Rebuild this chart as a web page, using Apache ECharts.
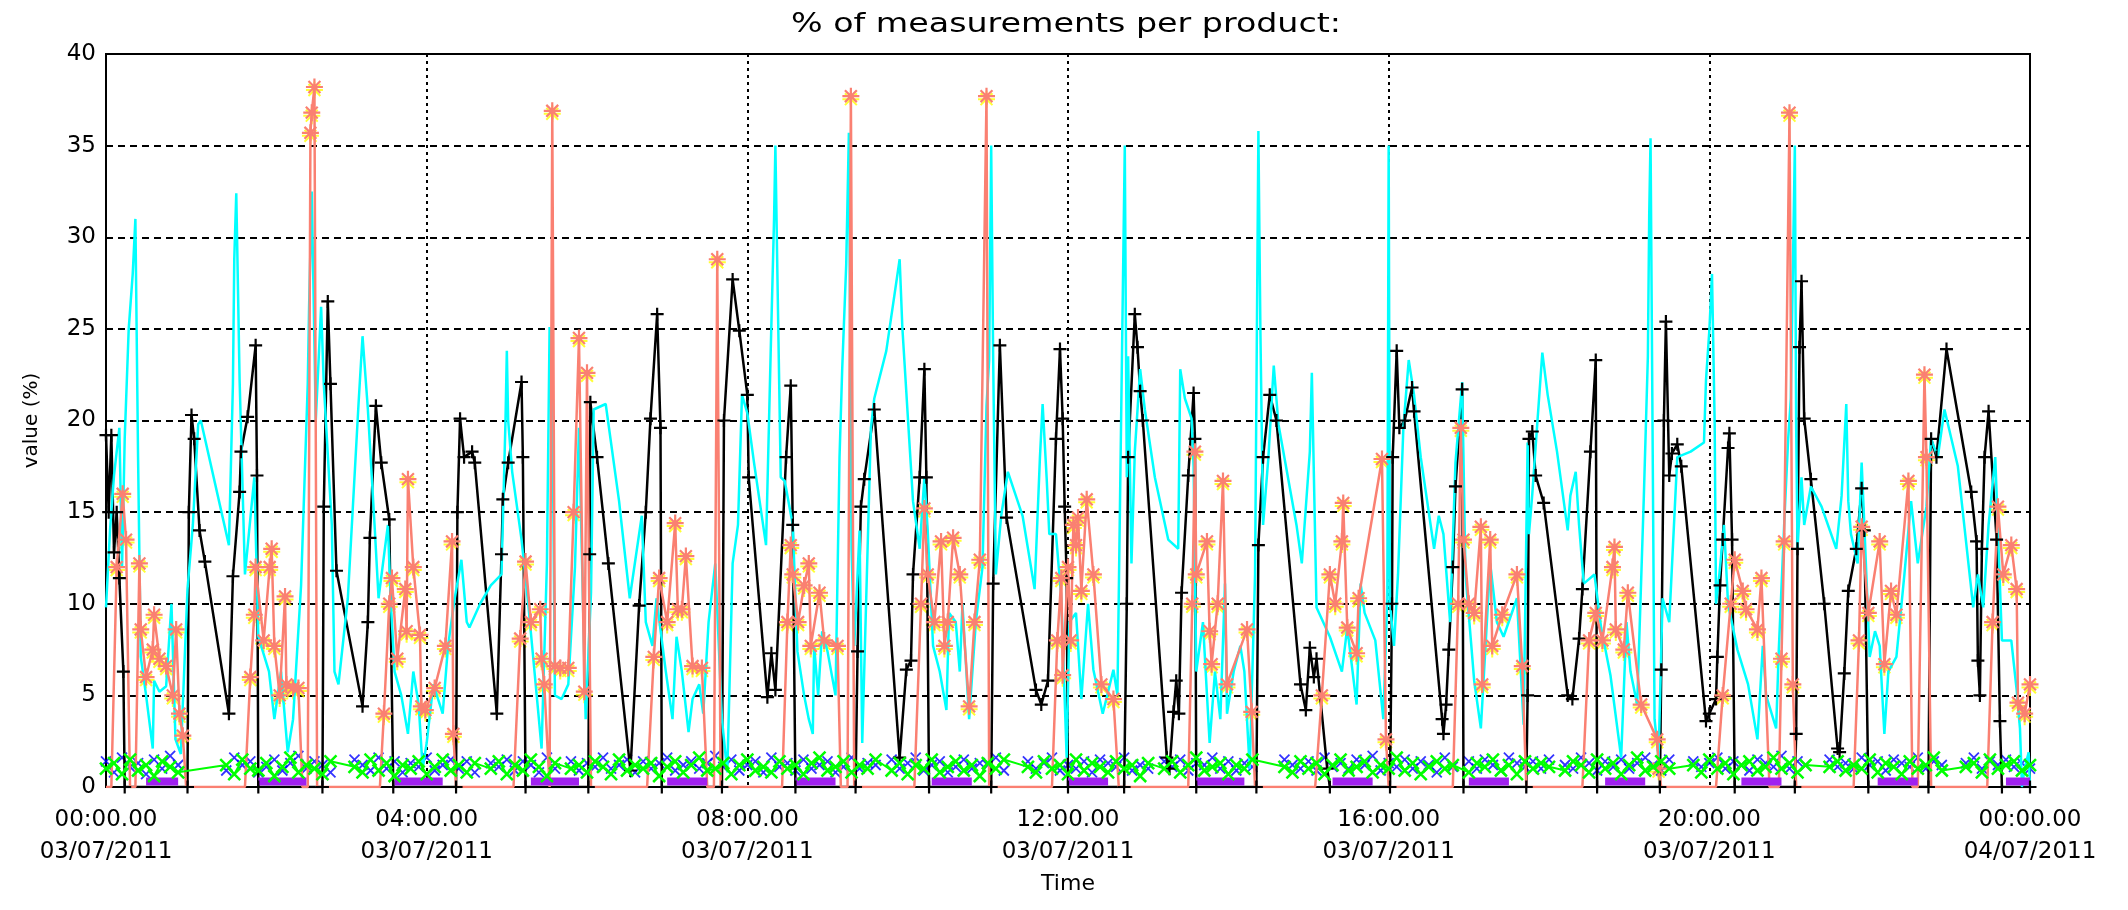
<!DOCTYPE html>
<html>
<head>
<meta charset="utf-8">
<script src="https://cdn.jsdelivr.net/npm/echarts@6/dist/echarts.min.js"></script>
<style>
html,body{margin:0;padding:0;background:#fff;}
#chart{width:2128px;height:910px;}
</style>
</head>
<body>
<div id="chart"></div>
<script>
// x values are minutes after 00:00 on 03/07/2011
const titleText = '% of measurements per product:';
const tickTimes = ['00:00.00','04:00.00','08:00.00','12:00.00','16:00.00','20:00.00','00:00.00'];
const tickDates = ['03/07/2011','03/07/2011','03/07/2011','03/07/2011','03/07/2011','03/07/2011','04/07/2011'];

const blackPts = [[0,19.2],[2,15],[4,19.2],[6,12.8],[8,15],[10,11.4],[13,6.3],[14,0],[61,0],[62,15],[64,20.3],[66,19],[70,14],[74,12.3],[92,4],[95,11.5],[100,16.1],[101,18.3],[106,20.2],[112,24.1],[113,17],[114,0],[162,0],[163,15.3],[166,26.5],[168,22],[172.5,11.8],[192,4.4],[196,9],[197.5,13.6],[202,20.8],[206,17.7],[212,14.6],[215,0],
[262,0],[263,15],[265,20.1],[268,18],[274,18.3],[276,17.7],[292.5,4],[296,12.7],[297,15.7],[301,17.7],[311,22.1],[312,18],[314,0],[361,0],[362,12.7],[362.5,21],[367.5,18],[376,12.2],[392.5,0.9],[399,9.9],[404,15],[407.5,20.1],[412.5,25.8],[415,19.6],[416,0],[461,0],[462.5,20],[469,27.7],[474,24.9],[480,21.4],
[481,16.9],[495,4.9],[498,7.3],[501,5.3],[509,18],[512.5,21.9],[514,14.3],[516,0],[561,0],[562.5,7.4],[565,15.3],[567.5,16.8],[575,20.6],[594,1.6],[599,6.4],[602.5,6.9],[604,11.6],[609,16.9],[612.5,22.8],[614,16.9],[616,0],[662.5,0],[664,11.1],[669,24.1],[674,14.7],[696,5.3],[700,4.5],[705,5.8],[711,19],[714,23.9],[716,20.1],[717.5,15.3],[719,11.4],[720,0],
[762,0],[764,10],[765,18],[770,25.8],[772,24],[774,21.6],[776,20],[794,1.6],[796,1],[799,4.1],[801,5.8],[803,4],[805,10.6],[810,17],[814,21.5],[815,19],[816,0],[861,0],[862.5,13.2],[866,18],[871,21.4],[876,20],[894,5.6],[898,4.2],[901,7.6],[904,6],[906,7],[914,1],[916,0],[961,0],[962.5,10],
[963,18],[966,23.8],[968,19.6],[972,20],[977.5,21.8],[979,20.5],[1000,3.7],[1001,2.9],[1003,4.5],[1005,7.5],[1008,12],[1010,16.4],[1015,21.7],[1016,0],[1063,0],[1064,5],[1065,19],[1067.5,19.4],[1070,17],[1076,15.5],[1094,5],[1097.5,4.8],[1102.5,8.1],[1105,10.8],[1111,18.3],[1115,23.3],[1116,0],[1163,0],[1164,6.4],[1166,20],[1167.5,25.4],[1170,17],[1172,18.2],[1176,18.7],[1179,17.5],[1197.5,3.6],
[1200,4],[1205,4.8],[1206,7.1],[1208,11],[1210,13.5],[1214,18.5],[1215,19.3],[1217,13.5],[1219,0],[1264,0],[1265,2.9],[1266,13],[1267.5,24],[1269,27.6],[1271,20.1],[1276,16.8],[1286,10],[1296,2.1],[1297.5,1.9],[1301,6.2],[1304,10.7],[1310,13],[1314,16.3],[1316,14],[1319,0],[1364,0],[1366,19],[1370,18],[1377.5,23.9],[1396,16.1],[1400,13.4],[1401,6.9],[1402.5,5],[1404,13],[1406,18],[1409,20.5],[1415,13.5],[1417.5,3.6],[1419,0],[1440,0]];

const cyanPts = [[0,9.8],[3,14],[6,17],[10,19.6],[12,12],[14,19],[17,25],[20,28],[22,31],[24,18],[26,7.1],[30,5],[35,2.1],[36,5.8],[40,5.2],[45,5.5],[49,10],[52,2.6],[56,1.8],[61,10.8],[65,14.3],[69,19.8],[71,20],[92,13.2],[95,22],[96,28.8],[97.5,32.4],[100,22.2],[104,11.6],[111,16.9],[114,8.2],[122,6.3],[126,3.7],[131,6.3],[136,1.9],[140,3.7],[146,11],[151,22],[152,26.2],[154,32.5],[157,20],[161,26.2],[163,22],[169,14.3],[171,6.3],[174,5.6],[181,10.3],[189,20.9],[192,24.6],[196,20.6],[201,14.3],[204,10.3],[211,14.3],[213,10.3],[216,6.3],[221,5],[226,2.9],[230,6.3],[234,4.5],[237,1],
[240,2.4],[245,5.6],[252,4],[256,7.7],[261,10.3],[266,12.4],[270,9],[272,8.7],[280,10],[288,11],[296,11.6],[299,20],[300,23.8],[301,20],[304,17.2],[311,13.5],[316,10],[324,3.7],[326,2.1],[330,12.2],[332,25.1],[334,22],[336,5],[341,4.8],[346,5.6],[351,12],[354,19.6],[359,3.7],[363,10.6],[365,20.6],[374,20.9],[384,15.6],[392,10.3],[401,14.8],[404,9],[409,7.7],[412,10.3],[419,6.3],[424,3.7],[427,8.2],[431,6.3],[436,3],[439,4.8],[444,5.6],[447,4],[451,9],[456,12.2],[461,3.7],[465,0.8],[469,12.2],[473,14.3],[476,21.4],
[480,20.4],[485,17.7],[494,13.2],[497.5,23.8],[500,31],[501,35],[502.5,28],[505,16.9],[508,16.7],[514,14.3],[517.5,7.4],[522.5,5],[526,3.7],[529,2.9],[530,7.7],[533,5],[536,8.5],[540,7.4],[546,5],[549,18],[551,22.8],[554,28.5],[556,35.7],[558,13],[560,7.7],[562.5,11.6],[564,14],[566,2.4],[572.5,19.6],[575,21.2],[584,23.8],[594,28.8],[596,25.1],[604,15.6],[609,13],[612.5,16.9],[615,14],[619,7.7],[624,6.3],[629,4.2],[631,9.5],[636,9],[639,6.3],[641,10],[646,3.7],[651,9],[656,12],[659,20.8],[661,23.3],[662.5,35],[664,23.3],[666,11.6],[670,14.8],[675,17.2],[686,14.8],[695,10.8],[699,18],[701,20.9],[704,16.9],[706,13.8],[711,13.8],[715,10.3],[719,1.6],
[721,9],[726,9.5],[730,4.8],[735,10],[739,6.4],[746,4],[754,6.4],[757,5],[762.5,35],[764,16.9],[765,23.5],[767.5,12.2],[770,18.3],[774,22.8],[777.5,20.6],[785,16.9],[795,13.5],[802.5,13],[804,22.8],[807.5,21.2],[812.5,20.1],[814,17.5],[816,6.3],[821,9],[826,2.4],[830,6.3],[834,3.7],[837.5,11.1],[839,4],[844,6.3],[849,7.7],[852,6.3],[856,1],[860,11.6],[862.5,35.8],[864,24.9],[866,14.3],[870,18],[874,23],[877.5,19.8],[891,14.3],[895,12.2],[901,18.3],[902.5,22.6],[906,9.8],[916,8.2],[925,6.3],[929,8.7],[936,4.5],[939,11.1],[942,9.5],[950,8],[956,3.7],[959,10.3],[960,35],
[961,10],[964,7.7],[967,11.6],[971,19.6],[975,23.3],[979,21.4],[984,18],[994,13],[997.5,14.8],[1001,13.8],[1006,9],[1010,17.7],[1015,22.1],[1017.5,11.6],[1024,5.8],[1029,3.2],[1032.5,7.7],[1036,12.2],[1041,9],[1046,8.2],[1056,10.3],[1061,3.4],[1064,18.8],[1065,13.8],[1067.5,16],[1075,23.7],[1079,21.4],[1086,18.3],[1094,14],[1096,15.9],[1100,17.2],[1102.5,14.3],[1106,11.1],[1114,11.6],[1119,8.7],[1126,6.1],[1134,1.6],[1138,9],[1141,6.3],[1146,4.5],[1151,15.9],[1154,23.5],[1155,31.2],[1156,35.4],[1159,3.7],[1162,1.6],[1165,10.3],[1170,9],[1176,18],[1186,18.3],[1196,18.8],[1197.5,22.2],[1200,24.9],[1202,28],
[1204,19.8],[1205,10],[1207.5,11.6],[1211,14.3],[1214,10],[1221,7.5],[1229,5.6],[1236,2.6],[1240,7.7],[1242.5,5],[1250,3.2],[1252,7.5],[1256,14.3],[1259,19],[1261,21.2],[1264,35],[1265,19.6],[1266,13],[1269,16.9],[1271,14.3],[1276,16.4],[1284,15.3],[1295,13],[1299,15.9],[1302.5,20.9],[1304,15.6],[1306,13.8],[1311,12.2],[1314,17.7],[1316,14.3],[1320,7.1],[1324,8.5],[1327.5,7.7],[1331,2.9],[1334,6.3],[1340,7.1],[1346,11.6],[1351,15.6],[1356,12.2],[1362.5,15.3],[1366,19],[1371,18],[1376,20.6],[1386,17.5],[1397.5,9.8],[1401,11.6],[1405,9.8],[1409,14.3],[1414,18],[1416,14],[1419,8],[1426,8],[1430,5.3],[1432.5,3.2],[1434,0],[1436,1],[1439,1.9],[1440,0]];

const salmonPts = [[0,0],[4,0],[8,12],[12.5,16],[15,13.5],[18,0],[22,0],[25,12.2],[26,8.6],[30,6],[35,7.5],[36,9.4],[40,7],[45,6.6],[50,5],[52.5,8.6],[55,4],[57.5,2.8],[60,0],[104,0],[108,6],[111,9.4],[112,12],[118,8],[122.5,12],[124,13],[126,7.7],[130,5],[134,10.4],[135,5.6],[140,5.4],[144,5.4],[147,0],[151,0],[153,35.7],[154,36.8],[156,38.2],[158,0],[205,0],[208,4],[212,10],[214,11.4],[218,7],[224,10.8],[225,8.5],[226,16.8],[230,12],[235,8.3],[236,4.4],
[239,4.2],[246,5.4],[254,7.7],[259,13.4],[260,2.9],[262,0],[305,0],[310,8.1],[314,12.3],[318,9],[325,9.7],[326,7],[328,5.6],[332,0],[334,36.9],[336,6.6],[340,6.5],[346,6.5],[350,15],[354,24.5],[358,5.2],[360,22.6],[363,0],[405,0],[410,7.1],[414,11.4],[420,9],[426,14.4],[428,9.7],[431,9.7],[434,12.6],[439,6.6],[446,6.5],[450,0],[455,0],[457.5,28.8],[460,0],
[506,0],[510,9],[512.5,13.2],[514,11.6],[518,9],[522.5,11],[526,12.2],[527.5,7.7],[534,10.6],[537.5,8],[547.5,7.7],[550,0],[555,0],[557.5,37.7],[560,0],[605,0],[610,10],[612.5,15.2],[615,11.6],[620,9],[625,13.4],[627.5,7.7],[630,9],[634,13.6],[639,11.6],[646,4.4],[650,9],[654,12.4],[659,37.7],[661,0],[708,0],[712,8],[715,11.4],[716,6.1],[720,12],
[722,8],[724,14.3],[726,13.2],[727.5,14.7],[730,10.7],[734,15.7],[739,11.6],[745,5.6],[754,4.8],[758,0],[810,0],[813,10],[815,18.3],[816,11.6],[824,13.4],[826,8.5],[827.5,6.7],[832,10],[836,16.7],[839,5.6],[854,8.6],[857.5,4.1],[860,0],[905,0],[910,5],[916,11.6],[920,10],[925,13.4],[926,15.5],[929,8.7],[936,7.3],[937.5,10.3],[955,17.9],[958,2.6],[960,0],
[1008,0],[1012,10],[1014,19.6],[1016,13.5],[1020,10],[1024,9.5],[1029,14.2],[1030,5.6],[1036,13.5],[1037.5,7.7],[1045,9.4],[1056,11.6],[1060,6.6],[1063,0],[1105,0],[1110,8],[1115,9.5],[1120,8],[1127.5,12],[1129,13.1],[1130,8.6],[1136,7.5],[1139,10.6],[1149,4.5],[1161,2.6],[1162,1],[1164,0],
[1205,0],[1210,5],[1216,10],[1219,12.4],[1225,10.7],[1227.5,9.7],[1236,8.6],[1239,11.4],[1245,0],[1252,0],[1254,7],[1256,13.4],[1260,36.8],[1262.5,5.6],[1265,0],[1308,0],[1312,8],[1314,14.2],[1319,9.5],[1327.5,13.4],[1331,6.7],[1336,10.7],[1340,9.4],[1349,16.7],[1352,0],[1356,0],[1361,22.5],[1362.5,18],[1366,0],[1408,0],[1412,9],[1416,15.3],[1420,11.6],[1426,13.2],[1430,10.8],[1431,4.6],[1436,4],[1440,5.6]];

// low-level products, sampled every 6 minutes (null = no measurement)
const bandStep = 6;
const greenV = [1.0,1.3,0.7,1.5,0.9,1.2,0.6,1.4,1.1,0.8,
null,null,null,null,null,1.2,0.7,1.5,1.0,0.9,
1.3,0.6,1.1,1.6,0.8,1.2,1.0,0.7,1.4,null,
null,1.1,0.8,1.5,0.9,1.3,0.6,1.2,1.0,1.4,
0.7,1.1,1.5,0.9,1.2,0.8,1.3,null,1.0,1.4,
0.7,1.2,0.9,1.5,1.1,0.6,1.3,null,1.0,1.2,
0.8,1.4,1.1,0.7,1.5,0.9,1.2,1.0,1.3,0.6,
1.1,1.4,0.8,1.2,1.6,0.9,1.0,1.3,0.7,1.2,
1.5,0.9,1.1,0.8,1.4,1.0,1.2,0.7,1.3,1.6,
0.9,1.1,1.4,0.8,1.2,1.0,1.5,null,0.9,1.3,
0.7,1.2,1.0,1.5,0.8,1.1,1.4,0.9,1.2,0.6,
1.3,1.0,1.5,null,null,1.1,0.8,1.4,1.0,1.2,
0.7,1.5,0.9,1.3,1.1,0.8,1.4,1.0,1.2,0.6,
1.3,null,1.0,1.4,0.8,1.2,1.6,0.9,1.1,1.3,
0.7,1.2,1.0,1.5,null,null,null,1.1,0.8,1.4,
1.0,1.3,0.7,1.2,1.5,0.9,1.1,1.4,0.8,1.2,
1.0,1.6,0.9,1.3,0.7,1.1,1.4,1.0,1.2,null,
0.8,1.3,1.1,1.5,0.9,1.2,0.7,1.4,1.0,1.3,
1.1,null,0.9,1.4,1.2,0.8,1.5,1.0,1.3,0.7,
1.2,1.6,0.9,1.1,1.4,1.0,null,null,1.2,0.8,
1.5,1.0,1.3,0.7,1.2,1.4,0.9,1.1,1.6,1.0,
1.3,0.8,1.2,null,null,1.1,1.4,0.9,1.2,1.0,
1.5,0.8,1.3,1.1,0.7,1.4,1.0,1.2,1.6,0.9,
null,null,1.1,1.3,0.8,1.5,1.0,1.2,1.4,0.9,
1.2];
const blueV = [1.4,0.8,1.6,1.1,1.3,0.7,1.5,1.0,1.7,1.2,
null,null,null,null,null,0.9,1.6,1.2,1.4,0.8,
1.1,1.5,0.9,1.3,1.7,1.0,1.4,1.2,0.8,null,
null,1.5,1.2,0.9,1.6,1.0,1.4,0.8,1.3,1.1,
1.6,0.9,1.2,1.5,1.0,1.4,0.8,null,1.3,1.1,
1.5,0.9,1.4,1.2,0.8,1.6,1.0,null,1.4,0.9,
1.3,1.1,1.6,1.0,1.2,1.5,0.8,1.4,1.0,1.3,
1.6,0.9,1.2,1.4,1.0,1.3,1.7,1.1,1.5,0.9,
1.2,1.4,0.8,1.6,1.1,1.3,0.9,1.5,1.0,1.2,
1.4,0.8,1.1,1.6,1.0,1.3,1.2,null,1.5,1.0,
1.3,1.6,0.9,1.2,1.4,0.8,1.1,1.5,1.0,1.3,
1.2,1.6,0.9,null,null,1.4,1.0,1.3,1.6,0.9,
1.2,1.0,1.4,0.8,1.5,1.3,1.1,1.6,0.9,1.2,
1.0,null,1.4,1.1,1.5,0.9,1.3,1.2,1.6,1.0,
1.4,0.9,1.3,1.1,null,null,null,1.5,1.2,1.0,
1.4,0.9,1.6,1.1,1.3,1.0,1.5,1.2,1.7,0.9,
1.3,1.1,1.5,1.0,1.4,1.2,0.8,1.6,1.1,null,
1.4,1.0,1.5,1.2,0.9,1.6,1.3,1.1,1.4,1.0,
1.5,null,1.2,1.0,1.6,1.3,0.9,1.4,1.1,1.5,
1.0,1.3,1.6,1.2,0.9,1.5,null,null,1.4,1.1,
1.3,1.6,1.0,1.4,1.2,0.9,1.5,1.3,1.1,1.7,
1.0,1.4,1.2,null,null,1.5,1.1,1.3,1.0,1.6,
1.2,1.4,0.9,1.5,1.3,1.1,1.6,1.0,1.4,1.2,
null,null,1.3,1.6,1.0,1.4,1.2,1.5,1.1,1.3,
1.0];
// purple product: start/end minutes of each run, and its level
const purpleStart = [30,114,216,318,420,516,618,720,816,918,1020,1122,1224,1326,1422];
const purpleEnd   = [54,150,252,354,450,546,648,750,852,948,1050,1152,1254,1356,1440];
const purpleLevel = 0.3;
const redT = [36,48,120,138,222,240,324,342,426,438,522,534,624,636,726,738,822,840,924,936,1026,1038,1128,1140,1230,1242,1332,1344,1428];
const redV = [0.3,0.3,0.3,0.3,0.3,0.3,0.3,0.3,0.3,0.3,0.3,0.3,0.3,0.3,0.3,0.3,0.3,0.3,0.3,0.3,0.3,0.3,0.3,0.3,0.3,0.3,0.3,0.3,0.3];

const FONT = 'DejaVu Sans';
const plusPath = 'path://M0,5L10,5M5,0L5,10';
const starPath = 'path://M5,0L5,10M0,5L10,5M1.5,1.5L8.5,8.5M1.5,8.5L8.5,1.5';
const xPath = 'path://M0,0L10,10M0,10L10,0';

const salmonData = salmonPts.map(p => p[1] === 0 ? {value: p, symbol: 'none'} : p);
const salmonNonZero = salmonPts.filter(p => p[1] !== 0);
const greenData = greenV.map((v, i) => [i * bandStep, v]);
const blueData = blueV.map((v, i) => [i * bandStep, v]);
const purpleData = [];
purpleStart.forEach((s, i) => {
  purpleData.push([s, purpleLevel], [purpleEnd[i], purpleLevel], [purpleEnd[i], null]);
});
const redData = redT.map((t, i) => [t, redV[i]]);

const chart = echarts.init(document.getElementById('chart'));
chart.setOption({
  animation: false,
  backgroundColor: '#fff',
  graphic: [{
    type: 'text', x: 1066, y: 25, scaleX: 1.28,
    style: {text: titleText, font: '26px "DejaVu Sans"', fill: '#000', align: 'center', verticalAlign: 'middle'}
  }],
  grid: {left: 106, right: 98, top: 54, bottom: 123, show: true, borderColor: '#000', borderWidth: 2},
  xAxis: {
    type: 'value', min: 0, max: 1440, interval: 240,
    name: 'Time', nameLocation: 'middle', nameGap: 86,
    nameTextStyle: {fontFamily: FONT, fontSize: 22, color: '#000'},
    axisLine: {show: true, lineStyle: {color: '#000', width: 2}},
    axisTick: {show: false},
    axisLabel: {
      fontFamily: FONT, fontSize: 23, color: '#000', margin: 17, lineHeight: 32,
      showMinLabel: true, showMaxLabel: true,
      formatter: v => { const i = Math.round(v / 240); return tickTimes[i] + '\n' + tickDates[i]; }
    },
    splitLine: {show: true, lineStyle: {color: '#000', width: 2, type: [3, 4]}}
  },
  yAxis: {
    type: 'value', min: 0, max: 40, interval: 5,
    name: 'value (%)', nameLocation: 'middle', nameGap: 64, nameRotate: 90,
    nameTextStyle: {fontFamily: FONT, fontSize: 20, color: '#000'},
    axisLine: {show: true, lineStyle: {color: '#000', width: 2}},
    axisTick: {show: false},
    axisLabel: {fontFamily: FONT, fontSize: 23, color: '#000', margin: 10},
    splitLine: {show: true, lineStyle: {color: '#000', width: 2, type: [7, 5]}}
  },
  series: [
    {type: 'line', name: 'black', data: blackPts, lineStyle: {color: '#000', width: 2.5},
     symbol: plusPath, symbolSize: 13, showAllSymbol: true,
     itemStyle: {color: '#000', borderColor: '#000', borderWidth: 2.2}, emphasis: {disabled: true}},
    {type: 'line', name: 'cyan', data: cyanPts, lineStyle: {color: '#00ffff', width: 2.5},
     symbol: 'none', emphasis: {disabled: true}},
    {type: 'scatter', name: 'salmon-shadow', data: salmonNonZero, symbol: starPath, symbolSize: 17,
     symbolOffset: [0, 3], itemStyle: {color: '#ffff00', borderColor: '#ffff00', borderWidth: 2}, emphasis: {disabled: true}},
    {type: 'line', name: 'salmon', data: salmonData, lineStyle: {color: '#fa8072', width: 2.5},
     symbol: starPath, symbolSize: 17, showAllSymbol: true,
     itemStyle: {color: '#fa8072', borderColor: '#fa8072', borderWidth: 2.2}, emphasis: {disabled: true}},
    {type: 'line', name: 'green', data: greenData, connectNulls: true, lineStyle: {color: '#00ff00', width: 2},
     symbol: xPath, symbolSize: 12, showAllSymbol: true,
     itemStyle: {color: '#00ff00', borderColor: '#00ff00', borderWidth: 2.5}, emphasis: {disabled: true}},
    {type: 'scatter', name: 'blue', data: blueData, symbol: xPath, symbolSize: 10,
     itemStyle: {color: '#0000ff', borderColor: '#0000ff', borderWidth: 1.8}, emphasis: {disabled: true}},
    {type: 'line', name: 'purple', data: purpleData, lineStyle: {color: '#a020f0', width: 8},
     symbol: 'none', emphasis: {disabled: true}},
    {type: 'scatter', name: 'red', data: redData, symbol: 'rect', symbolSize: 6,
     itemStyle: {color: '#ff0000'}, emphasis: {disabled: true}}
  ]
});
</script>
</body>
</html>
